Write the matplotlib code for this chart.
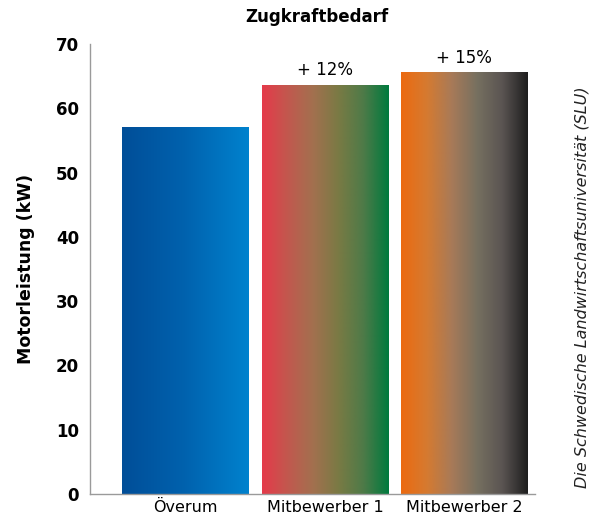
import numpy as np
from matplotlib import pyplot as plt
from matplotlib.colors import LinearSegmentedColormap

# Werte
categories = ["Överum", "Mitbewerber 1", "Mitbewerber 2"]
power_kw = [57.0, 63.6, 65.6]
labels = ["", "+ 12%", "+ 15%"]
yticks = [0, 10, 20, 30, 40, 50, 60, 70]

# Farbverläufe (links -> rechts)
gradients = [
    ["#004E98", "#0062AE", "#0082CE"],
    ["#E53A4A", "#C2584E", "#A3704F", "#7A7A44", "#4E7A48", "#007A3E"],
    ["#EC6A10", "#D67A30", "#A87A58", "#767060", "#5A5452", "#1E1E1E"],
]

fig = plt.figure(figsize=(5.96, 5.18), dpi=100)
ax = fig.add_axes([0.151, 0.0463, 0.747, 0.8687])

x = np.arange(len(categories))
bars = ax.bar(x, power_kw, width=0.91, color="none", edgecolor="none")

grad = np.linspace(0, 1, 256).reshape(1, -1)
for patch, cols in zip(bars, gradients):
    cmap = LinearSegmentedColormap.from_list("g", cols)
    x0 = patch.get_x()
    x1 = x0 + patch.get_width()
    ax.imshow(grad, cmap=cmap, aspect="auto", extent=(x0, x1, 0, patch.get_height()),
              zorder=2, interpolation="bilinear")

for xi, val, lab in zip(x, power_kw, labels):
    if lab:
        ax.text(xi, val + 0.9, lab, ha="center", va="bottom", fontsize=12)

ax.set_xlim(-0.687, 2.51)
ax.set_ylim(0, 70)
ax.set_xticks(x)
ax.set_xticklabels(categories, fontsize=11.5)
ax.set_yticks(yticks)
ax.set_yticklabels([str(t) for t in yticks], fontsize=12, fontweight="bold")
ax.tick_params(axis="both", length=0)
ax.tick_params(axis="y", pad=8)
ax.tick_params(axis="x", pad=4)

for side in ["top", "right"]:
    ax.spines[side].set_visible(False)
for side in ["left", "bottom"]:
    ax.spines[side].set_color("#9a9a9a")
    ax.spines[side].set_linewidth(1.0)

ax.set_ylabel("Motorleistung (kW)", fontsize=12.5, fontweight="bold", labelpad=15)
fig.text(0.532, 0.967, "Zugkraftbedarf", ha="center", va="center", fontsize=12, fontweight="bold")
fig.text(0.977, 0.446, "Die Schwedische Landwirtschaftsuniversität (SLU)", rotation=90,
         ha="center", va="center", fontsize=11.5, style="italic", color="#222222")

fig.savefig("out.png", dpi=100)
